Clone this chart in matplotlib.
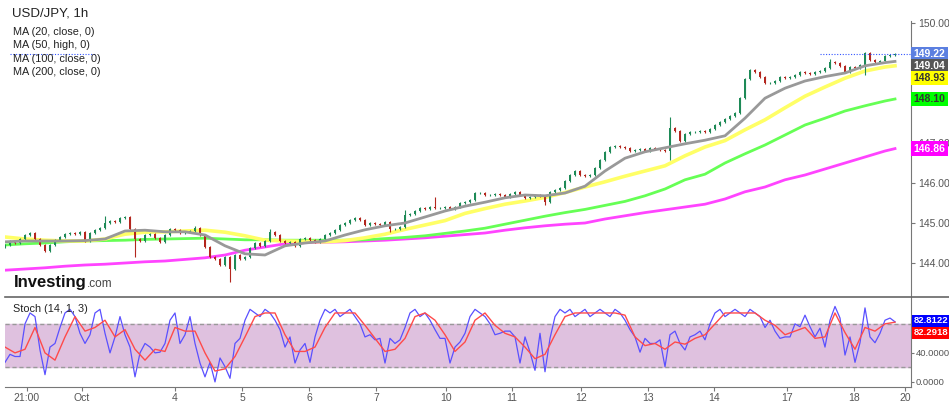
import matplotlib
matplotlib.use('Agg')
import matplotlib.pyplot as plt
import matplotlib.transforms as mtransforms

plt.rcParams['font.family'] = ['Liberation Sans', 'DejaVu Sans']

# hourly-ish closes, one every ~5 px of the original chart
closes = [
    144.45, 144.55, 144.50, 144.60, 144.70, 144.75, 144.60, 144.45, 144.30, 144.45,
    144.57, 144.65, 144.72, 144.75, 144.72, 144.77, 144.55, 144.75, 144.82, 144.88,
    145.00, 145.05, 145.03, 145.12, 145.15, 144.85, 144.60, 144.55, 144.70, 144.72,
    144.62, 144.52, 144.70, 144.85, 144.82, 144.75, 144.77, 144.80, 144.87, 144.70,
    144.40, 144.15, 144.10, 143.95, 144.15, 143.85, 144.20, 144.10, 144.15, 144.37,
    144.50, 144.42, 144.55, 144.78, 144.70, 144.55, 144.50, 144.52, 144.42, 144.60,
    144.62, 144.57, 144.52, 144.60, 144.70, 144.75, 144.83, 144.95, 145.00, 145.07,
    145.12, 145.07, 144.95, 145.00, 144.97, 144.95, 145.02, 144.85, 144.85, 144.90,
    145.20, 145.22, 145.30, 145.37, 145.35, 145.40, 145.37, 145.38, 145.40, 145.35,
    145.40, 145.50, 145.52, 145.57, 145.75, 145.75, 145.70, 145.70, 145.72, 145.70,
    145.65, 145.72, 145.78, 145.70, 145.62, 145.65, 145.70, 145.68, 145.52, 145.78,
    145.82, 145.87, 146.05, 146.20, 146.30, 146.20, 146.17, 146.20, 146.38, 146.57,
    146.77, 146.90, 146.92, 146.90, 146.87, 146.80, 146.82, 146.85, 146.80, 146.87,
    146.85, 146.82, 146.80, 147.37, 147.30, 147.05, 147.22, 147.27, 147.27, 147.30,
    147.28, 147.35, 147.45, 147.52, 147.60, 147.68, 147.75, 148.12, 148.60, 148.82,
    148.78, 148.65, 148.50, 148.50, 148.55, 148.65, 148.63, 148.65, 148.70, 148.77,
    148.75, 148.73, 148.77, 148.80, 148.87, 149.03, 149.00, 148.92, 148.77, 148.90,
    148.87, 148.95, 149.25, 149.07, 149.03, 149.05, 149.18, 149.20, 149.22,
]
first_open = 144.40
spike_hi = {20: 145.18, 38: 144.93, 53: 144.85, 80: 145.32, 86: 145.65, 133: 147.65, 165: 149.10}
spike_lo = {26: 144.15, 45: 143.53, 77: 144.78, 108: 145.45, 133: 146.57, 172: 148.70}

ma_idx = list(range(0, 177, 4)) + [178]
ma20 = [144.53, 144.55, 144.55, 144.55, 144.56, 144.60, 144.80, 144.82, 144.78, 144.78,
        144.70, 144.43, 144.23, 144.20, 144.43, 144.50, 144.55, 144.70, 144.83, 144.93,
        145.00, 145.15, 145.30, 145.42, 145.52, 145.63, 145.70, 145.68, 145.75, 145.92,
        146.30, 146.62, 146.78, 146.88, 146.98, 147.07, 147.18, 147.62, 148.12, 148.37,
        148.55, 148.66, 148.75, 148.93, 149.01, 149.04]
ma50 = [144.65, 144.60, 144.57, 144.55, 144.55, 144.60, 144.72, 144.77, 144.78, 144.80,
        144.82, 144.77, 144.68, 144.57, 144.55, 144.54, 144.53, 144.56, 144.63, 144.72,
        144.84, 144.95, 145.06, 145.24, 145.36, 145.47, 145.55, 145.64, 145.76, 145.90,
        146.03, 146.17, 146.30, 146.43, 146.68, 146.90, 147.06, 147.33, 147.58, 147.88,
        148.17, 148.40, 148.62, 148.80, 148.90, 148.93]
ma100 = [144.45, 144.48, 144.50, 144.53, 144.55, 144.56, 144.57, 144.59, 144.60, 144.61,
         144.62, 144.60, 144.58, 144.58, 144.57, 144.57, 144.57, 144.57, 144.58, 144.61,
         144.64, 144.68, 144.74, 144.80, 144.87, 144.97, 145.07, 145.17, 145.26, 145.34,
         145.44, 145.54, 145.68, 145.85, 146.08, 146.22, 146.50, 146.73, 146.95, 147.20,
         147.45, 147.62, 147.80, 147.93, 148.05, 148.10]
ma200 = [143.82, 143.85, 143.88, 143.92, 143.95, 143.97, 144.00, 144.03, 144.05, 144.09,
         144.13, 144.20, 144.32, 144.40, 144.48, 144.51, 144.52, 144.53, 144.55, 144.57,
         144.60, 144.63, 144.67, 144.71, 144.75, 144.82, 144.88, 144.93, 144.97, 145.00,
         145.10, 145.18, 145.26, 145.33, 145.40, 145.47, 145.60, 145.78, 145.90, 146.08,
         146.20, 146.35, 146.50, 146.65, 146.80, 146.86]

# stochastic %K (every candle) and %D (every 2 candles)
stoch_k = [27, 38, 35, 35, 80, 95, 90, 44, 10, 48,
           53, 75, 95, 100, 90, 67, 53, 65, 95, 100,
           67, 40, 62, 90, 65, 48, 7, 40, 53, 48,
           40, 41, 53, 85, 95, 53, 65, 90, 53, 26,
           7, 27, 0, 33, 21, 5, 53, 60, 85, 100,
           95, 90, 100, 95, 85, 72, 48, 62, 26, 44,
           53, 27, 62, 85, 100, 95, 100, 90, 95, 100,
           90, 80, 62, 65, 58, 60, 26, 60, 53, 58,
           75, 95, 100, 90, 95, 85, 72, 60, 60, 26,
           48, 55, 67, 90, 100, 95, 90, 80, 65, 67,
           70, 70, 62, 26, 62, 41, 16, 67, 14, 60,
           90, 100, 95, 100, 90, 95, 100, 90, 95, 100,
           95, 90, 100, 95, 85, 72, 62, 41, 60, 53,
           53, 58, 21, 65, 70, 53, 44, 62, 65, 70,
           58, 80, 95, 100, 90, 95, 100, 95, 90, 100,
           95, 90, 75, 85, 70, 60, 62, 62, 80, 76,
           92, 76, 62, 74, 48, 85, 104, 88, 37, 62,
           27, 54, 102, 62, 54, 67, 85, 88, 82.8]
k_idx = list(range(len(stoch_k)))
stoch_d = [48, 40, 45, 75, 40, 30, 62, 90, 70, 75,
           85, 62, 72, 45, 30, 45, 42, 75, 70, 70,
           40, 15, 18, 35, 62, 90, 95, 95, 65, 42,
           42, 48, 75, 95, 95, 95, 78, 60, 42, 45,
           60, 90, 95, 85, 65, 42, 55, 85, 95, 78,
           67, 62, 48, 32, 38, 65, 90, 95, 95, 95,
           95, 95, 92, 62, 50, 53, 45, 55, 52, 60,
           65, 80, 95, 95, 95, 95, 85, 78, 65, 70,
           75, 60, 62, 95, 68, 45, 75, 70, 80, 82.3]
d_idx = list(range(0, 179, 2))

x_ticks = [4.4, 15.4, 34.0, 47.4, 60.8, 74.2, 88.2, 101.4, 115.2, 128.6, 141.8, 156.4, 169.8, 180.0]
x_labels = ['21:00', 'Oct', '4', '5', '6', '7', '10', '11', '12', '13', '14', '17', '18', '20']
price_ticks = [144, 145, 146, 147, 148, 149, 150]
price_labels = ['144.00', '145.00', '146.00', '147.00', '', '', '150.00']  # 148/149 sit under the boxes

C_UP = '#1e8a57'
C_DN = '#b3261e'
C_TXT = '#555555'

fig = plt.figure(figsize=(9.49, 4.05), dpi=100)
ax = fig.add_axes([5 / 949, 1 - 297 / 405, 906 / 949, 297 / 405])
axs = fig.add_axes([5 / 949, 1 - 387 / 405, 906 / 949, 90 / 405])

# --- candles
opens = [first_open] + closes[:-1]
for i, (o, c) in enumerate(zip(opens, closes)):
    col = C_UP if c >= o else C_DN
    hi = spike_hi.get(i, max(o, c) + 0.03)
    lo = spike_lo.get(i, min(o, c) - 0.03)
    ax.vlines(i, lo, hi, color=col, lw=0.8, zorder=3)
    ax.bar(i, max(abs(c - o), 0.012), bottom=min(o, c), width=0.55, color=col, zorder=4, linewidth=0)

ax.plot(ma_idx, ma200, color='#ff44ff', lw=2.0, zorder=2)
ax.plot(ma_idx, ma100, color='#66ff55', lw=2.0, zorder=2)
ax.plot(ma_idx, ma50, color='#ffff66', lw=2.6, zorder=2)
ax.plot(ma_idx, ma20, color='#999999', lw=2.0, zorder=5)

last = closes[-1]
ax.plot([163, 181.2], [last, last], color='#3355ff', lw=0.8, ls=(0, (1, 1.5)), zorder=6)

ax.set_xlim(0, 181.2)
ax.set_ylim(143.15, 150.575)
for s in ['top', 'left', 'bottom']:
    ax.spines[s].set_visible(False)
ax.spines['right'].set_color('#777777')
ax.spines['right'].set_bounds(143.15, 150.05)
ax.yaxis.tick_right()
ax.set_yticks(price_ticks)
ax.set_yticklabels(price_labels)
ax.tick_params(axis='y', colors='#777777', labelcolor=C_TXT, labelsize=7.5, length=3, pad=2)
ax.set_xticks([])

# price boxes on the right axis
trans = mtransforms.blended_transform_factory(ax.transAxes, ax.transData)
boxes = [(last, '#5b7fe0', 'white'), (ma20[-1], '#555555', 'white'),
         (ma50[-1], '#ffff00', '#333333'), (ma100[-1], '#00ff00', '#333333'),
         (ma200[-1], '#ff00ff', 'white')]
box_y = [149.22, 148.92, 148.62, 148.10, 146.86]
for (val, bg, fg), yy in zip(boxes, box_y):
    ax.text(1.003, yy, f'{val:.2f}', transform=trans, ha='left', va='center', fontsize=7.5,
            fontweight='bold', color=fg, clip_on=False, zorder=10,
            bbox=dict(boxstyle='square,pad=0.22', fc=bg, ec='none'))

# --- stochastic
axs.axhspan(20, 80, color='#dfc1df', zorder=0)
for lvl in (20, 80):
    axs.axhline(lvl, color='#999999', lw=1.0, ls=(0, (3, 2)), zorder=1)
axs.plot(d_idx, stoch_d, color='#ff4a4a', lw=1.0, zorder=3)
axs.plot(k_idx, stoch_k, color='#5a50ff', lw=0.9, zorder=2)
axs.set_xlim(0, 181.2)
axs.set_ylim(-7, 117)
for s in ['top', 'left']:
    axs.spines[s].set_visible(False)
axs.spines['right'].set_color('#777777')
axs.spines['bottom'].set_color('#777777')
axs.yaxis.tick_right()
axs.set_yticks([0, 40])
axs.set_yticklabels(['0.0000', '40.0000'])
axs.tick_params(axis='y', colors='#777777', labelcolor=C_TXT, labelsize=6.8, length=2.5, pad=1)
axs.set_xticks(x_ticks)
axs.set_xticklabels(x_labels)
axs.tick_params(axis='x', colors='#777777', labelcolor=C_TXT, labelsize=7.5, length=3, pad=1)
strans = mtransforms.blended_transform_factory(axs.transAxes, axs.transData)
for val, yy, bg in [(82.8122, 84, '#0000ff'), (82.2918, 67.5, '#ff0000')]:
    axs.text(1.003, yy, f'{val:.4f}', transform=strans, ha='left', va='center', fontsize=6.8,
             fontweight='bold', color='white', clip_on=False, zorder=10,
             bbox=dict(boxstyle='square,pad=0.15', fc=bg, ec='none'))

# separator between panes
fig.add_artist(plt.Line2D([5 / 949, 1], [1 - 297 / 405] * 2, color='#666666', lw=1.2))

# header / legend text
fig.text(12 / 949, 1 - 14 / 405, 'USD/JPY, 1h', fontsize=9.5, va='center', color='#222222')
for k, t in enumerate(['MA (20, close, 0)', 'MA (50, high, 0)', 'MA (100, close, 0)', 'MA (200, close, 0)']):
    fig.text(13 / 949, 1 - (32 + 13.3 * k) / 405, t, fontsize=7.8, va='center', color='#222222')
fig.add_artist(plt.Line2D([10 / 949, 95 / 949], [1 - 54 / 405] * 2, color='#3355ff', lw=0.8, ls=(0, (1, 1.5))))
fig.text(13 / 949, 1 - 309 / 405, 'Stoch (14, 1, 3)', fontsize=7.8, va='center', color='#222222')

logo = fig.text(14 / 949, 1 - 287 / 405, 'Investing', fontsize=12, fontweight='bold', color='#111111',
                va='baseline', family=['Liberation Sans Narrow', 'Liberation Sans'])
fig.canvas.draw()
ax.annotate('.com', xy=(1, 0), xycoords=logo, fontsize=8.5, color='#444444', va='bottom', ha='left',
            annotation_clip=False)

fig.savefig('out.png', dpi=100)
